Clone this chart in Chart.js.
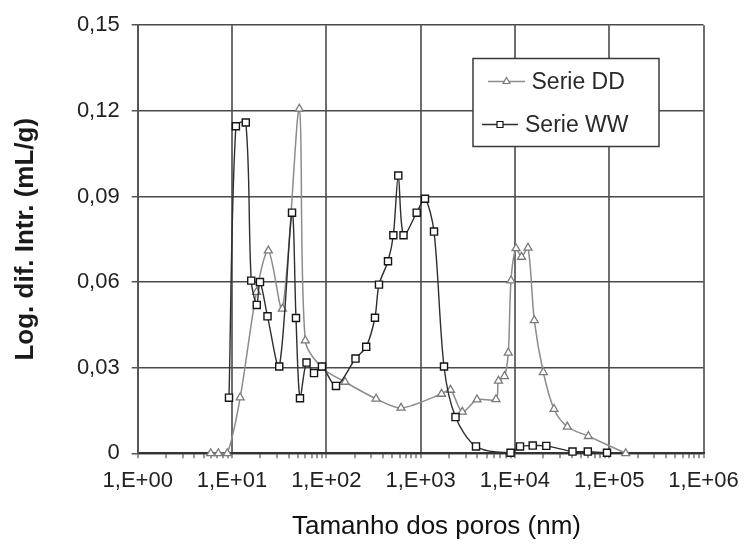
<!DOCTYPE html>
<html>
<head>
<meta charset="utf-8">
<script src="https://cdn.jsdelivr.net/npm/chart.js@4/dist/chart.umd.min.js"></script>
<style>
html, body { margin: 0; padding: 0; background: #ffffff; }
canvas { display: block; }
</style>
</head>
<body>
<canvas id="chart" width="749" height="545"></canvas>
<script>
// ---------- data ----------
const seriesNames = ['Serie DD', 'Serie WW'];

const poreSizeDD = [5.94, 7.16, 8.92, 12.2, 18.2, 24.3, 34.2, 51.7, 59.9, 90, 158, 337, 620,
  1666, 2075, 2769, 3964, 6303, 6700, 7757, 8511, 9091, 10270, 11750, 13770, 16060, 20010,
  25980, 35950, 60030, 149600];
const valuesDD = [0, 0, 0, 0.0195, 0.0565, 0.071, 0.0506, 0.1207, 0.0395, 0.030, 0.025, 0.0191, 0.0159,
  0.0208, 0.0222, 0.0145, 0.0188, 0.0189, 0.0254, 0.027, 0.0352, 0.0605, 0.0718, 0.0688, 0.072, 0.0466, 0.0284,
  0.0155, 0.0093, 0.006, 0];

const poreSizeWW = [9.29, 11.0, 14.0, 16.0, 18.3, 19.8, 23.8, 31.7, 43.3, 47.7, 52.6, 61.7, 74.1, 90.0,
  126.7, 204, 265, 328, 362, 451, 514, 580, 659, 909, 1113, 1387, 1771, 2345, 3868, 8982, 11330,
  15450, 21530, 40820, 59320, 94780];
const valuesWW = [0.0195, 0.1146, 0.1159, 0.0605, 0.052, 0.060, 0.048, 0.0304, 0.0843, 0.0474, 0.0193, 0.0318,
  0.0281, 0.0304, 0.0236, 0.0332, 0.0373, 0.0475, 0.0591, 0.0673, 0.0764, 0.0973, 0.0764, 0.0843, 0.0892,
  0.0777, 0.0304, 0.0127, 0.0024, 0.0002, 0.0024, 0.0027, 0.0026, 0.0006, 0.0006, 0.0002];

const xMajorTicks = [1, 10, 100, 1000, 10000, 100000, 1000000];
const xTickLabels = ['1,E+00', '1,E+01', '1,E+02', '1,E+03', '1,E+04', '1,E+05', '1,E+06'];
const yTickValues = [0, 0.03, 0.06, 0.09, 0.12, 0.15];
const yTickLabels = ['0', '0,03', '0,06', '0,09', '0,12', '0,15'];

const xTitle = 'Tamanho dos poros (nm)';
const yTitle = 'Log. dif. Intr. (mL/g)';

// ---------- derived tick list (major decades + minor 2..9 marks) ----------
const xAllTicks = [];
xMajorTicks.forEach((d, i) => {
  xAllTicks.push(d);
  if (i < xMajorTicks.length - 1) {
    for (let k = 2; k <= 9; k++) xAllTicks.push(d * k);
  }
});

const FONT = '"Liberation Sans", Arial, Helvetica, sans-serif';
Chart.defaults.font.family = FONT;

function toPoints(xs, ys) { return xs.map((x, i) => ({ x: x, y: ys[i] })); }

// ---------- legend drawn inside the plot, as in the reference ----------
function marker(c, style, x, y, r) {
  c.beginPath();
  if (style === 'triangle') {
    c.moveTo(x, y - r);
    c.lineTo(x + r * 0.866, y + r * 0.5);
    c.lineTo(x - r * 0.866, y + r * 0.5);
    c.closePath();
  } else {
    const s = r * 0.75;
    c.rect(x - s, y - s, 2 * s, 2 * s);
  }
  c.fill();
  c.stroke();
}

const boxLegend = {
  id: 'boxLegend',
  afterDraw(chart) {
    const c = chart.ctx;
    const ds = chart.data.datasets;
    c.save();
    c.fillStyle = '#ffffff';
    c.strokeStyle = '#3a3a3a';
    c.lineWidth = 1.5;
    c.fillRect(473, 58.5, 186, 88);
    c.strokeRect(473, 58.5, 186, 88);
    const rows = [
      { y: 81.5, x0: 488, x1: 525, tx: 531.5 },
      { y: 124.5, x0: 482, x1: 518, tx: 525 }
    ];
    rows.forEach((r, i) => {
      const d = ds[i];
      c.strokeStyle = d.borderColor;
      c.lineWidth = 1.5;
      c.beginPath();
      c.moveTo(r.x0, r.y);
      c.lineTo(r.x1, r.y);
      c.stroke();
      c.fillStyle = '#ffffff';
      c.strokeStyle = d.pointBorderColor;
      c.lineWidth = 1.2;
      marker(c, d.pointStyle, (r.x0 + r.x1) / 2, r.y, 4);
      c.fillStyle = '#2a2a2a';
      c.font = '23px ' + FONT;
      c.textAlign = 'left';
      c.textBaseline = 'middle';
      c.fillText(d.label, r.tx, r.y + 1);
    });
    // x-axis title
    c.fillStyle = '#111111';
    c.font = '26px ' + FONT;
    c.textAlign = 'center';
    c.textBaseline = 'middle';
    c.fillText(xTitle, 436.5, 527);
    c.restore();
  }
};

new Chart(document.getElementById('chart'), {
  type: 'scatter',
  data: {
    datasets: [
      {
        label: seriesNames[0],
        data: toPoints(poreSizeDD, valuesDD),
        showLine: true,
        order: 1,
        clip: false,
        borderColor: '#8c8c8c',
        borderWidth: 1.5,
        tension: 0.3,
        pointStyle: 'triangle',
        pointRadius: 4.6,
        pointBorderWidth: 1.3,
        pointBorderColor: '#7a7a7a',
        pointBackgroundColor: '#ffffff'
      },
      {
        label: seriesNames[1],
        data: toPoints(poreSizeWW, valuesWW),
        showLine: true,
        order: 0,
        clip: false,
        borderColor: '#2e2e2e',
        borderWidth: 1.4,
        tension: 0.3,
        pointStyle: 'rect',
        pointRadius: 5,
        pointBorderWidth: 1.4,
        pointBorderColor: '#151515',
        pointBackgroundColor: '#ffffff'
      }
    ]
  },
  options: {
    responsive: false,
    animation: false,
    devicePixelRatio: 1,
    layout: { padding: { left: 0, right: 45.5, top: 13.3, bottom: 0 } },
    plugins: {
      legend: { display: false },
      tooltip: { enabled: false }
    },
    scales: {
      x: {
        type: 'logarithmic',
        min: 1,
        max: 1000000,
        afterBuildTicks(scale) {
          scale.ticks = xAllTicks.map(v => ({ value: v, major: xMajorTicks.indexOf(v) >= 0 }));
        },
        afterFit(scale) { scale.height = 91.7; },
        ticks: {
          autoSkip: false,
          maxRotation: 0,
          minRotation: 0,
          padding: 9,
          color: '#222222',
          font: { size: 22 },
          callback: (v) => {
            const k = xMajorTicks.indexOf(v);
            return k >= 0 ? xTickLabels[k] : '';
          }
        },
        grid: {
          color: (ctx) => (ctx.tick && ctx.tick.major ? '#6e6e6e' : 'rgba(0,0,0,0)'),
          lineWidth: 2,
          tickLength: 5,
          tickColor: '#555555',
          tickWidth: 1.2
        },
        border: { color: '#333333', width: 2 }
      },
      y: {
        min: 0,
        max: 0.15,
        afterBuildTicks(scale) {
          scale.ticks = yTickValues.map(v => ({ value: v }));
        },
        afterFit(scale) { scale.width = 137.7; },
        ticks: {
          padding: 12,
          color: '#222222',
          font: { size: 22 },
          callback: (v, i) => yTickLabels[i]
        },
        grid: {
          color: '#4a4a4a',
          lineWidth: 1.5,
          tickLength: 6,
          tickColor: '#555555'
        },
        border: { color: '#555555', width: 2 },
        title: {
          display: true,
          text: yTitle,
          color: '#1a1a1a',
          font: { size: 26, weight: 'bold' },
          padding: { top: 10, bottom: 0 }
        }
      }
    }
  },
  plugins: [boxLegend]
});
</script>
</body>
</html>
